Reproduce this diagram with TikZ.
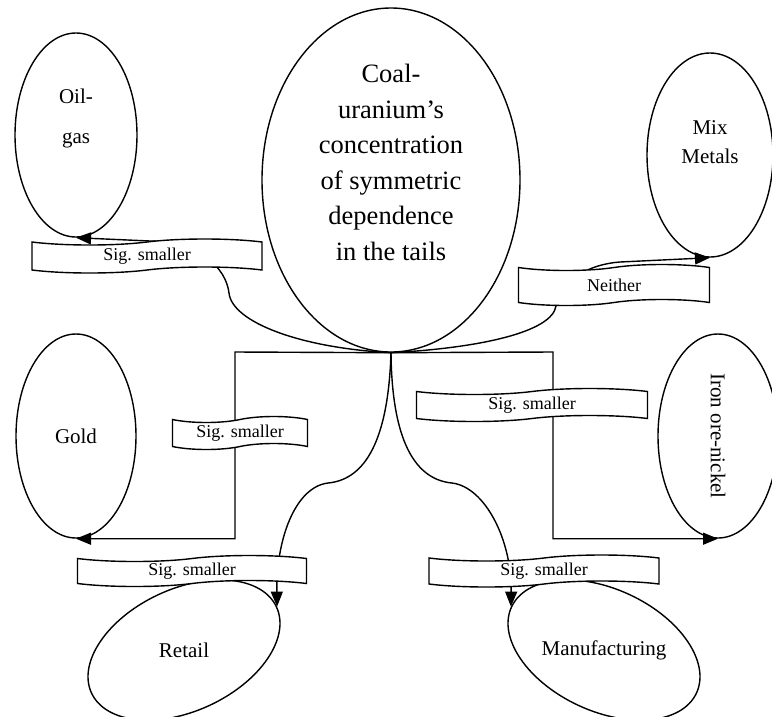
\documentclass[tikz,border=0pt]{standalone}
\usepackage{fontspec}
\setmainfont{Liberation Serif}
\usepackage{graphicx}
\usetikzlibrary{
    arrows.meta,
    shapes.geometric,
    shapes.symbols
}

\begin{document}
\begin{tikzpicture}[
    x=1pt, y=-1pt,
    line width=1.4pt,
    market/.style={
        ellipse, draw, inner sep=0pt,
        minimum width=122pt, minimum height=204pt,
        align=center, font=\fontsize{21}{29}\selectfont
    },
    banner/.style={
        tape, draw, fill=white, inner sep=0pt,
        tape bend height=6pt,
        font=\fontsize{18}{20}\selectfont
    },
    arrow/.style={-{Triangle[length=15pt, width=12pt]}}
]
\useasboundingbox (0,0) rectangle (772,716);

% Central ellipse
\node[market, minimum width=258pt, minimum height=344pt, text depth=35pt,
      font=\fontsize{26.5}{35.5}\selectfont] (coal) at (391,180)
    {Coal-\\uranium's\\concentration\\of symmetric\\dependence\\in the tails};

% Markets around it
\node[market, text depth=38pt, font=\fontsize{21}{40}\selectfont] (oil) at (76,135) {Oil-\\gas};
\node[market, minimum width=126pt, text depth=25pt] (mix) at (710,155) {Mix\\Metals};
\node[market, minimum width=120pt] (gold) at (76,436) {Gold};
\node[market, minimum width=204pt, minimum height=120pt, rotate=-90] (iron) at (718,436) {Iron ore-nickel};
\node[market, minimum width=204pt, minimum height=122pt, rotate=25] (retail) at (184,650) {\rotatebox{-25}{Retail}};
\node[market, minimum width=204pt, minimum height=122pt, rotate=-25] (manu) at (604,650) {\rotatebox{25}{Manufacturing}};

% Connectors (iron.east is the bottom, node turned by -90)
\draw[arrow] (coal.south) .. controls (300,348) and (232,322) .. (229,293)
    .. controls (226,268) and (200,242) .. (150,241) -- (oil.south);
\draw[arrow] (coal.south) .. controls (480,348) and (552,332) .. (556,306)
    .. controls (560,280) and (590,264) .. (620,262) -- (mix.south);
\draw[arrow] (coal.south) -- (235,352) |- (gold.south);
\draw[arrow] (coal.south) -- (553,352) |- (iron.east);
\draw[arrow] (coal.south) .. controls (388,450) and (360,480) .. (328,483)
    .. controls (295,487) and (276,540) .. (retail.east);
\draw[arrow] (coal.south) .. controls (392,450) and (420,480) .. (452,483)
    .. controls (485,487) and (512,540) .. (manu.west);

% Banners on the connectors
\node[banner, minimum width=230pt, minimum height=34pt] (sigoil) at (147,256) {Sig. smaller};
\node[banner, minimum width=191pt, minimum height=41pt] (neither) at (614,285) {Neither};
\node[banner, minimum width=135pt, minimum height=33pt] (siggold) at (240,433) {Sig. smaller};
\node[banner, minimum width=229pt, minimum height=31pt] (sigretail) at (192,571) {Sig. smaller};
\node[banner, minimum width=231pt, minimum height=33pt] (sigiron) at (532,405) {Sig. smaller};
\node[banner, minimum width=230pt, minimum height=32pt] (sigmanu) at (544,571) {Sig. smaller};

\end{tikzpicture}
\end{document}
